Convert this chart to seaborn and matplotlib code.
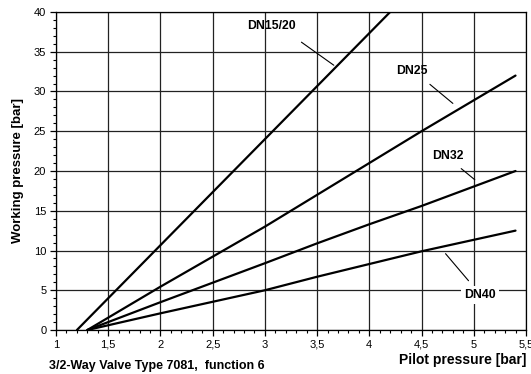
import matplotlib
matplotlib.use("Agg")
import matplotlib.pyplot as plt
import matplotlib.ticker as mticker
import seaborn as sns
import pandas as pd

# curves (pilot pressure -> working pressure)
dn15_x = [1.2, 4.2]
dn15_y = [0.0, 40.0]
dn25_x = [1.3, 2.0, 3.0, 4.5, 5.4]
dn25_y = [0.0, 5.45, 13.0, 25.0, 32.0]
dn32_x = [1.3, 2.0, 3.0, 3.5, 4.0, 4.5, 5.4]
dn32_y = [0.0, 3.5, 8.4, 10.9, 13.3, 15.6, 20.0]
dn40_x = [1.3, 2.0, 3.0, 3.5, 4.0, 4.5, 5.4]
dn40_y = [0.0, 2.1, 5.0, 6.7, 8.3, 9.9, 12.5]

labels = ["DN15/20", "DN25", "DN32", "DN40"]
# label text position and leader line (start, end) in data units
label_pos = [(3.06, 38.2), (4.41, 32.6), (4.75, 21.9), (5.06, 4.4)]
leaders = [((3.35, 36.2), (3.66, 33.3)),
           ((4.58, 30.9), (4.80, 28.5)),
           ((4.88, 20.3), (5.01, 18.9)),
           ((4.73, 9.6), (4.95, 6.2))]

frames = []
for name, xs, ys in zip(labels, [dn15_x, dn25_x, dn32_x, dn40_x], [dn15_y, dn25_y, dn32_y, dn40_y]):
    frames.append(pd.DataFrame({"pilot": xs, "work": ys, "size": name}))
df = pd.concat(frames, ignore_index=True)

sns.set_style("ticks")
plt.rcParams["font.family"] = ["Liberation Sans", "DejaVu Sans"]
plt.rcParams["text.color"] = "black"
plt.rcParams["axes.labelcolor"] = "black"

fig = plt.figure(figsize=(5.31, 3.74), dpi=100)
ax = fig.add_axes([0.1055, 0.1176, 0.885, 0.8504])

ax.grid(True, which="major", color="#222222", linewidth=0.9)
ax.set_axisbelow(True)

sns.lineplot(data=df, x="pilot", y="work", units="size", estimator=None,
             color="black", linewidth=1.6, sort=False, ax=ax, legend=False)

ax.set_xlim(1, 5.5)
ax.set_ylim(0, 40)
ax.xaxis.set_major_locator(mticker.MultipleLocator(0.5))
ax.xaxis.set_minor_locator(mticker.MultipleLocator(0.1))
ax.yaxis.set_major_locator(mticker.MultipleLocator(5))
ax.yaxis.set_minor_locator(mticker.MultipleLocator(1))
ax.xaxis.set_major_formatter(mticker.FuncFormatter(lambda v, p: f"{v:g}".replace(".", ",")))
ax.tick_params(which="major", length=4, width=0.9, labelsize=8, colors="black",
               labelcolor="black", pad=3)
ax.tick_params(which="minor", length=2, width=0.8, colors="black")
ax.tick_params(axis="x", which="both", direction="out")

for s in ax.spines.values():
    s.set_color("black")
    s.set_linewidth(0.9)

ax.set_xlabel("")
ax.set_ylabel("Working pressure [bar]", fontsize=9.5, fontweight="bold", labelpad=7,
              color="black")

for name, (tx, ty), (p0, p1) in zip(labels, label_pos, leaders):
    ax.plot([p0[0], p1[0]], [p0[1], p1[1]], color="black", linewidth=0.8)
    bbox = dict(facecolor="white", edgecolor="none", pad=2) if name == "DN40" else None
    ax.text(tx, ty, name, fontsize=8.8, fontweight="bold", ha="center", va="center",
            color="black", bbox=bbox)

fig.text(0.9906, 0.037, "Pilot pressure [bar]", fontsize=10, fontweight="bold",
         ha="right", va="center", color="black")
fig.text(0.092, 0.021, "3/2-Way Valve Type 7081,  function 6", fontsize=9, fontweight="bold",
         ha="left", va="center", color="black")

fig.savefig("out.png", dpi=100)
